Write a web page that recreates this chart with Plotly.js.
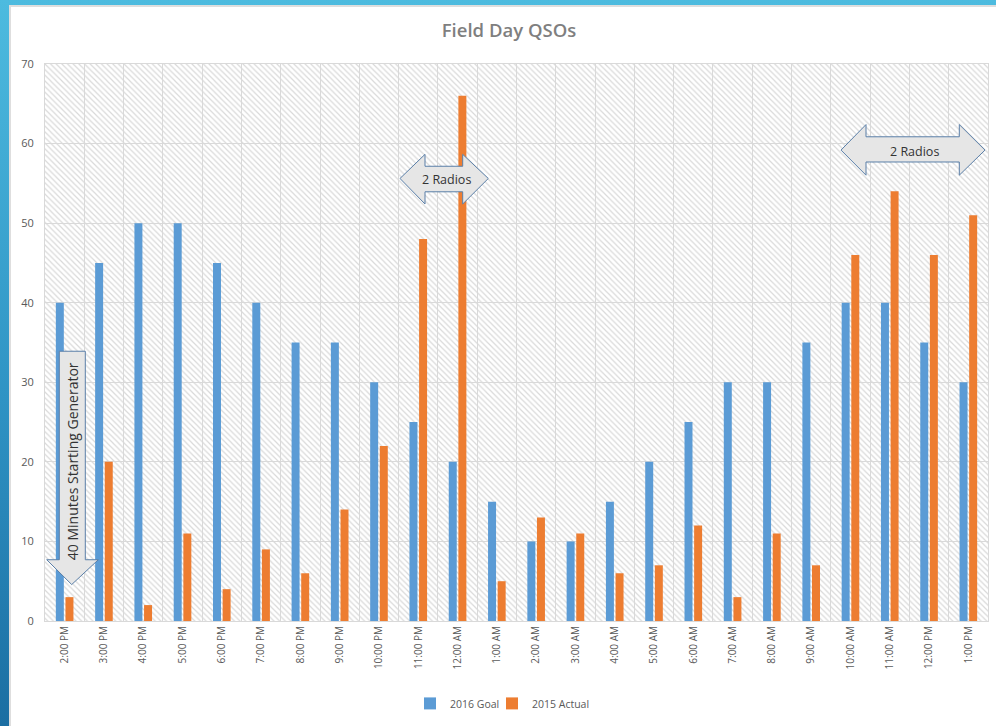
<!DOCTYPE html>
<html>
<head>
<meta charset="utf-8">
<script src="https://cdn.plot.ly/plotly-3.0.1.min.js"></script>
<style>
  html, body { margin: 0; padding: 0; width: 996px; height: 726px; overflow: hidden; }
  body { background: linear-gradient(to bottom, #4dbbdf 0%, #2f93c4 55%, #1b6ea2 100%); position: relative; }
  #frame { position: absolute; left: 9px; top: 5px; width: 987px; height: 721px; background: #dedede; }
  #chart { position: absolute; left: 11px; top: 7px; width: 985px; height: 719px; background: #fff; }
</style>
</head>
<body>
<div id="frame"></div>
<div id="chart"></div>
<script>
var hours = ['2:00 PM', '3:00 PM', '4:00 PM', '5:00 PM', '6:00 PM', '7:00 PM', '8:00 PM',
  '9:00 PM', '10:00 PM', '11:00 PM', '12:00 AM', '1:00 AM', '2:00 AM', '3:00 AM', '4:00 AM',
  '5:00 AM', '6:00 AM', '7:00 AM', '8:00 AM', '9:00 AM', '10:00 AM', '11:00 AM', '12:00 PM', '1:00 PM'];
var goal2016 = [40, 45, 50, 50, 45, 40, 35, 35, 30, 25, 20, 15, 10, 10, 15, 20, 25, 30, 30, 35, 40, 40, 35, 30];
var actual2015 = [3, 20, 2, 11, 4, 9, 6, 14, 22, 48, 66, 5, 13, 11, 6, 7, 12, 3, 11, 7, 46, 54, 46, 51];

// plot box in page pixels, used to place the callout arrows
var box = {left: 45, right: 988, top: 64, bottom: 625};
function px(x) { return (x - box.left) / (box.right - box.left); }
function py(y) { return (box.bottom - y) / (box.bottom - box.top); }

function doubleArrow(tipL, baseL, baseR, tipR, mid, headTop, headBot, bodyTop, bodyBot) {
  var pts = [[tipL, mid], [baseL, headTop], [baseL, bodyTop], [baseR, bodyTop], [baseR, headTop],
    [tipR, mid], [baseR, headBot], [baseR, bodyBot], [baseL, bodyBot], [baseL, headBot]];
  return 'M' + pts.map(function(p) { return px(p[0]) + ',' + py(p[1]); }).join(' L') + ' Z';
}

function downArrow(bodyL, bodyR, top, headBase, headL, headR, tipX, tipY) {
  var pts = [[bodyL, top], [bodyR, top], [bodyR, headBase], [headR, headBase], [tipX, tipY],
    [headL, headBase], [bodyL, headBase]];
  return 'M' + pts.map(function(p) { return px(p[0]) + ',' + py(p[1]); }).join(' L') + ' Z';
}

var shapes = [
  doubleArrow(400, 425, 462.7, 488.3, 179.3, 155, 205, 167, 192.7),
  doubleArrow(841, 866, 959.3, 985, 150.7, 125, 176, 137.3, 162.7),
  downArrow(59.3, 85.3, 353.3, 563.3, 46.7, 98.3, 71.7, 588.3)
].map(function(p) {
  return {type: 'path', xref: 'paper', yref: 'paper', path: p,
    fillcolor: '#e6e6e6', line: {color: '#5a7fa8', width: 1}, layer: 'above'};
});

var labelFont = {family: 'Open Sans', size: 12.5, color: '#333333'};
var annotations = [
  {xref: 'paper', yref: 'paper', x: px(446), y: py(180), xanchor: 'center', yanchor: 'middle',
    text: '2 Radios', showarrow: false, font: labelFont},
  {xref: 'paper', yref: 'paper', x: px(914), y: py(152), xanchor: 'center', yanchor: 'middle',
    text: '2 Radios', showarrow: false, font: labelFont},
  {xref: 'paper', yref: 'paper', x: px(72), y: py(464), xanchor: 'center', yanchor: 'middle',
    text: '40 Minutes Starting Generator', textangle: -90, showarrow: false,
    font: {family: 'Open Sans', size: 14, color: '#333333'}}
];

var hatch = {
  type: 'bar', x: [0.5], y: [1], width: [1], xaxis: 'x', yaxis: 'y',
  marker: {color: 'rgba(0,0,0,0)', line: {width: 0},
    pattern: {shape: '\\', fgcolor: '#d9d9d9', bgcolor: 'rgba(0,0,0,0)', size: 4, solidity: 0.3}},
  hoverinfo: 'skip', showlegend: false
};

var traceGoal = {
  type: 'bar', name: '2016 Goal', x: hours, y: goal2016, xaxis: 'x2', yaxis: 'y2',
  marker: {color: '#5b9bd5'}, legend: 'legend'
};

var traceActual = {
  type: 'bar', name: '2015 Actual', x: hours, y: actual2015, xaxis: 'x2', yaxis: 'y2',
  marker: {color: '#ed7d31'}, legend: 'legend2'
};

var tickFont = {family: 'Open Sans', size: 10, color: '#595959'};
var legendFont = {family: 'Open Sans', size: 10.5, color: '#595959'};

var layout = {
  width: 985, height: 719,
  margin: {l: 34, r: 8, t: 57, b: 101},
  paper_bgcolor: '#ffffff', plot_bgcolor: '#ffffff',
  title: {text: 'Field Day QSOs', font: {family: 'Open Sans', size: 18.5, color: '#7f7f7f', weight: 600},
    xref: 'paper', x: px(509), xanchor: 'center', yref: 'container', y: 0.967, yanchor: 'middle'},
  barmode: 'group', bargap: 0.51, bargroupgap: 0.17,
  xaxis: {visible: false, range: [0, 1], fixedrange: true},
  yaxis: {visible: false, range: [0, 1], fixedrange: true},
  xaxis2: {overlaying: 'x', anchor: 'y2', type: 'category', range: [-0.5, 23.5],
    tickson: 'boundaries', ticks: '', showgrid: true, gridcolor: '#d9d9d9', gridwidth: 1,
    showline: true, linecolor: '#d9d9d9', linewidth: 1, mirror: true,
    tickangle: -90, tickfont: tickFont},
  yaxis2: {overlaying: 'y', anchor: 'x2', side: 'left', range: [0, 70], dtick: 10,
    showgrid: true, gridcolor: '#d9d9d9', gridwidth: 1, zeroline: false,
    showline: true, linecolor: '#d9d9d9', mirror: true, ticks: '', ticklabelstandoff: 8,
    tickfont: {family: 'Open Sans', size: 11, color: '#595959'}},
  legend: {orientation: 'h', x: px(410), xanchor: 'left', y: py(708), yanchor: 'middle',
    font: legendFont, itemwidth: 30, bgcolor: 'rgba(0,0,0,0)'},
  legend2: {orientation: 'h', x: px(492), xanchor: 'left', y: py(708), yanchor: 'middle',
    font: legendFont, itemwidth: 30, bgcolor: 'rgba(0,0,0,0)'},
  shapes: shapes,
  annotations: annotations
};

Plotly.newPlot('chart', [hatch, traceGoal, traceActual], layout, {displayModeBar: false, staticPlot: true});
</script>
</body>
</html>
